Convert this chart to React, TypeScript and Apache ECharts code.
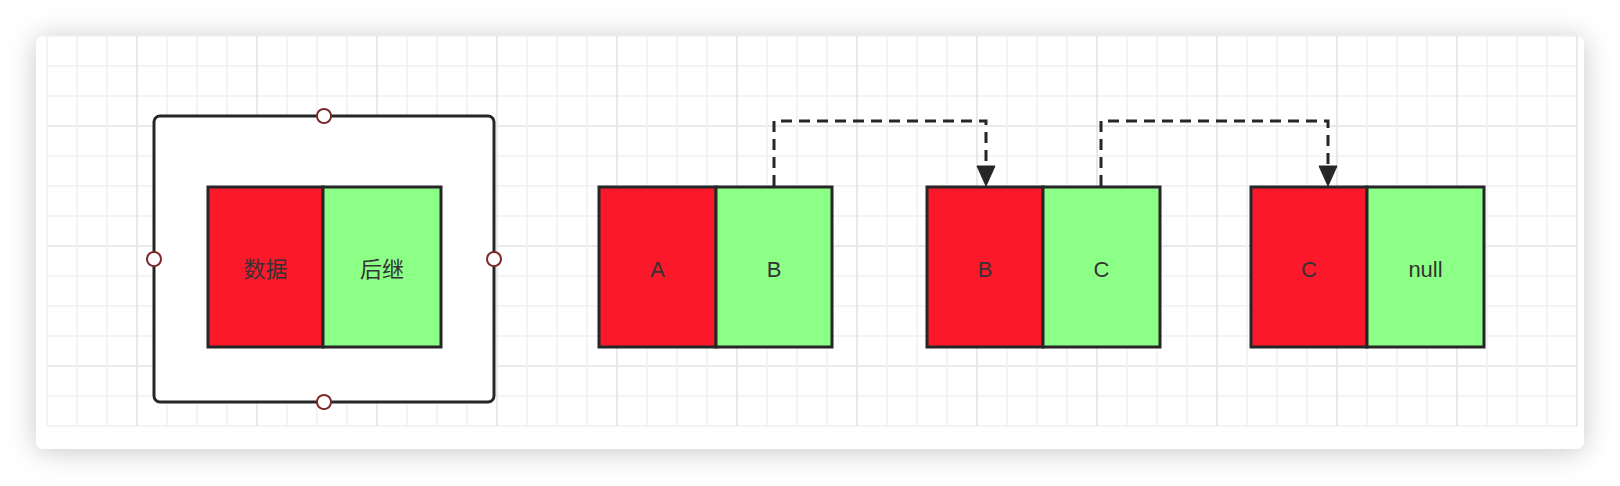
import { useEffect, useRef } from 'react';
import * as echarts from 'echarts';

// diagram units: pixels relative to the grid origin (top-left of the backdrop grid)
const nodeLeft = [161, 552, 880, 1204];
const nodeMid = [276, 669, 996, 1320];
const nodeRight = [394, 785, 1113, 1437];
const nodeTop = 151;
const nodeBottom = 311;
const dataLabels = ['数据', 'A', 'B', 'C'];
const nextLabels = ['后继', 'B', 'C', 'null'];

// dashed pointer links: [fromX, toX]
const linkFrom = [727, 1054];
const linkTo = [939, 1281];
const linkTopY = 85;

// outer selection frame around the legend node
const frameBox = [107, 80, 447, 366];

const INK = '#262626';
const RED = '#fc182b';
const GREEN = '#8cff86';
const MINOR = '#f0f0f0';
const MAJOR = '#e2e2e2';
const FONT = '22px "Liberation Sans", "Noto Sans CJK SC", sans-serif';

export default function App() {
  const chartRef = useRef<HTMLDivElement>(null);

  useEffect(() => {
    document.body.style.margin = '0';
    if (!chartRef.current) return;
    const chart = echarts.init(chartRef.current, undefined, { renderer: 'svg' });

    const nodeData = nodeLeft.map((_, i) => [nodeLeft[i], nodeMid[i], nodeRight[i], i]);
    const linkData = linkFrom.map((f, i) => [f, linkTo[i]]);

    chart.setOption({
      animation: false,
      backgroundColor: '#fff',
      graphic: [
        {
          type: 'rect',
          z: -10,
          shape: { x: 36, y: 36, width: 1548, height: 413, r: 8 },
          style: { fill: '#fff', shadowBlur: 28, shadowColor: 'rgba(0,0,0,0.22)', shadowOffsetY: 2 }
        }
      ],
      grid: { left: 47, top: 36, width: 1530, height: 390 },
      xAxis: {
        type: 'value',
        min: 0,
        max: 1530,
        interval: 30,
        axisLine: { show: false },
        axisTick: { show: false },
        axisLabel: { show: false },
        splitLine: { show: true, lineStyle: { color: [MINOR, MINOR, MINOR, MAJOR], width: 1.5 } }
      },
      yAxis: {
        type: 'value',
        inverse: true,
        min: 0,
        max: 390,
        interval: 30,
        axisLine: { show: false },
        axisTick: { show: false },
        axisLabel: { show: false },
        splitLine: { show: true, lineStyle: { color: [MINOR, MINOR, MINOR, MAJOR], width: 1.5 } }
      },
      series: [
        {
          type: 'custom',
          z: 5,
          data: [frameBox],
          renderItem: (_p: any, api: any) => {
            const a = api.coord([api.value(0), api.value(1)]);
            const b = api.coord([api.value(2), api.value(3)]);
            const cx = (a[0] + b[0]) / 2;
            const cy = (a[1] + b[1]) / 2;
            const handles = [[cx, a[1]], [a[0], cy], [b[0], cy], [cx, b[1]]];
            return {
              type: 'group',
              children: [
                {
                  type: 'rect',
                  shape: { x: a[0], y: a[1], width: b[0] - a[0], height: b[1] - a[1], r: 6 },
                  style: { fill: '#fff', stroke: INK, lineWidth: 3 }
                },
                ...handles.map((h) => ({
                  type: 'circle',
                  shape: { cx: h[0], cy: h[1], r: 7 },
                  style: { fill: '#fff', stroke: '#7d2a2a', lineWidth: 2 }
                }))
              ]
            };
          }
        },
        {
          type: 'custom',
          z: 6,
          data: nodeData,
          renderItem: (_p: any, api: any) => {
            const i = api.value(3);
            const l = api.coord([api.value(0), nodeTop]);
            const m = api.coord([api.value(1), nodeBottom]);
            const r = api.coord([api.value(2), nodeBottom]);
            const h = m[1] - l[1];
            const cy = (l[1] + m[1]) / 2 + 2;
            return {
              type: 'group',
              children: [
                {
                  type: 'rect',
                  shape: { x: l[0], y: l[1], width: m[0] - l[0], height: h },
                  style: { fill: RED, stroke: INK, lineWidth: 3 }
                },
                {
                  type: 'rect',
                  shape: { x: m[0], y: l[1], width: r[0] - m[0], height: h },
                  style: { fill: GREEN, stroke: INK, lineWidth: 3 }
                },
                {
                  type: 'text',
                  style: { text: dataLabels[i], x: (l[0] + m[0]) / 2, y: cy, align: 'center', verticalAlign: 'middle', font: FONT, fill: '#333' }
                },
                {
                  type: 'text',
                  style: { text: nextLabels[i], x: (m[0] + r[0]) / 2, y: cy, align: 'center', verticalAlign: 'middle', font: FONT, fill: '#333' }
                }
              ]
            };
          }
        },
        {
          type: 'custom',
          z: 7,
          data: linkData,
          renderItem: (_p: any, api: any) => {
            const s = api.coord([api.value(0), nodeTop]);
            const t = api.coord([api.value(1), linkTopY]);
            const tip = api.coord([api.value(1), nodeTop]);
            const headTop = tip[1] - 21;
            return {
              type: 'group',
              children: [
                {
                  type: 'polyline',
                  shape: { points: [[s[0], s[1] - 1], [s[0], t[1]], [t[0], t[1]], [t[0], headTop]] },
                  style: { fill: 'none', stroke: INK, lineWidth: 3, lineDash: [11, 7] }
                },
                {
                  type: 'polygon',
                  shape: { points: [[tip[0] - 9, headTop], [tip[0] + 9, headTop], [tip[0], tip[1] - 1]] },
                  style: { fill: INK, stroke: INK, lineWidth: 1 }
                }
              ]
            };
          }
        }
      ]
    });

    return () => chart.dispose();
  }, []);

  return <div ref={chartRef} style={{ width: 1620, height: 486 }} />;
}
